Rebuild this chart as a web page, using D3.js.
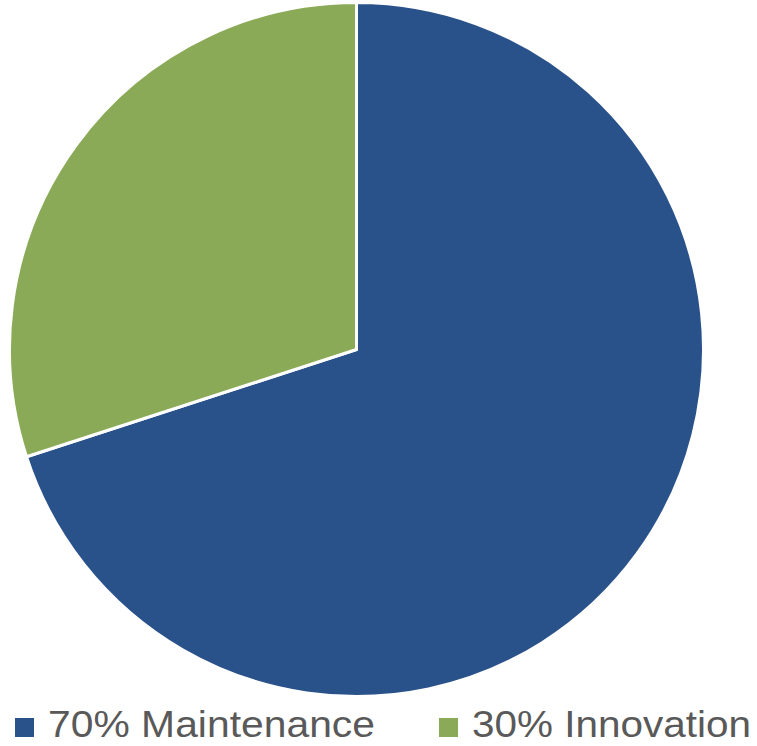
<!DOCTYPE html>
<html><head><meta charset="utf-8">
<script src="https://cdn.jsdelivr.net/npm/d3@7"></script>
<style>html,body{margin:0;padding:0;background:#fff;}</style>
</head><body>
<svg id="chart" width="757" height="746"></svg>
<script>
const categories = ["70% Maintenance", "30% Innovation"];
const values = [70, 30];
const colors = ["#2A528A", "#8AAA57"];

const svg = d3.select("#chart");
const cx = 356.5, cy = 349.5, r = 347;
const pie = d3.pie().sort(null).value(d => d)(values);
const arc = d3.arc().innerRadius(0).outerRadius(r);
const g = svg.append("g").attr("transform", `translate(${cx},${cy})`);
g.selectAll("path").data(pie).join("path")
  .attr("d", arc)
  .attr("fill", (d, i) => colors[i])
  .attr("stroke", "#fff")
  .attr("stroke-width", 3)
  .attr("stroke-linejoin", "round");

const legendX = [15, 439];
const legendW = [327, 279];
const lg = svg.append("g");
categories.forEach((c, i) => {
  lg.append("rect").attr("x", legendX[i]).attr("y", 718).attr("width", 19).attr("height", 19).attr("fill", colors[i]);
  lg.append("text").attr("x", legendX[i] + 33).attr("y", 737)
    .attr("font-family", "'Liberation Sans', Arial, sans-serif")
    .attr("font-size", 37)
    .attr("fill", "#595959")
    .attr("textLength", legendW[i])
    .attr("lengthAdjust", "spacingAndGlyphs")
    .text(c);
});
</script>
</body></html>
